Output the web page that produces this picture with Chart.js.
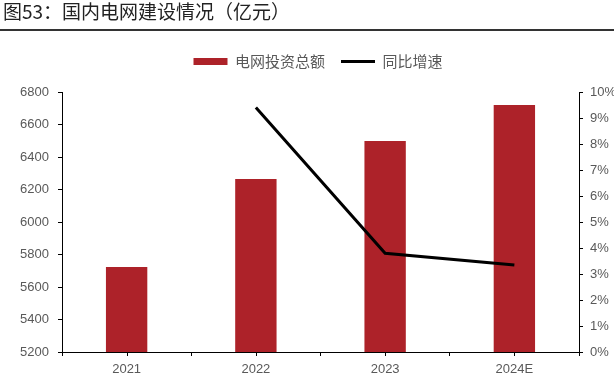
<!DOCTYPE html>
<html>
<head>
<meta charset="utf-8">
<script src="https://cdn.jsdelivr.net/npm/chart.js@4.4.1/dist/chart.umd.min.js"></script>
<style>
  html, body { margin: 0; padding: 0; background: #fff; }
  body { width: 614px; height: 379px; position: relative; overflow: hidden; }
  #title { position: absolute; left: 3px; top: 0px; font: 19px "Noto Sans CJK SC", sans-serif; line-height: 22px; color: #222; white-space: nowrap; }
  #rule { position: absolute; left: 0; top: 29px; width: 614px; height: 2px; background: #333; }
  #wrap { position: absolute; left: 0; top: 0; width: 614px; height: 379px; }
</style>
</head>
<body>
<div id="wrap"><canvas id="c" width="614" height="379"></canvas></div>
<div id="title">图53：国内电网建设情况（亿元）</div>
<div id="rule"></div>
<script>
const categories = ['2021', '2022', '2023', '2024E'];
const investment = [5723, 6264, 6499, 6720];
const growth = [null, 9.4, 3.8, 3.35];
const seriesNames = ['电网投资总额', '同比增速'];
const leftTicks = [5200, 6800, 200];
const rightTicks = [0, 10, 1];

const BAR = '#AD2229';
const TXT = '#595959';

const centerTicks = {
  id: 'centerTicks',
  afterInit(chart) {
    const lg = chart.legend;
    if (!lg) return;
    const of = lg.fit;
    lg.fit = function () { of.apply(this, arguments); this.height += 13; };
    const od = lg.draw;
    lg.draw = function () {
      const ctx = chart.ctx;
      ctx.save(); ctx.translate(11, 0);
      od.apply(this, arguments);
      ctx.restore();
    };
  },
  afterDraw(chart) {
    const x = chart.scales.x;
    const ctx = chart.ctx;
    ctx.save();
    ctx.strokeStyle = '#000';
    ctx.lineWidth = 1;
    categories.forEach((c, i) => {
      const px = Math.round(x.getPixelForValue(i)) + 0.5;
      ctx.beginPath();
      ctx.moveTo(px, x.top);
      ctx.lineTo(px, x.top + 4);
      ctx.stroke();
    });
    ctx.restore();
  }
};

new Chart(document.getElementById('c'), {
  data: {
    labels: categories,
    datasets: [
      {
        type: 'line', label: seriesNames[1], data: growth, yAxisID: 'y1',
        borderColor: '#000', backgroundColor: '#000', borderWidth: 3,
        pointRadius: 0, tension: 0, order: 0
      },
      {
        type: 'bar', label: seriesNames[0], data: investment, yAxisID: 'y',
        backgroundColor: BAR, borderWidth: 0,
        barPercentage: 0.32, categoryPercentage: 1, order: 1
      }
    ]
  },
  options: {
    responsive: false,
    animation: false,
    devicePixelRatio: 1,
    layout: { padding: { top: 38, left: 0, right: 0, bottom: 0 } },
    plugins: {
      tooltip: { enabled: false },
      title: { display: false },
      legend: {
        position: 'top',
        align: 'center',
        labels: {
          usePointStyle: true,
          pointStyleWidth: 34,
          boxHeight: 7,
          padding: 16,
          color: TXT,
          font: { family: '"Noto Sans CJK SC", sans-serif', size: 15 },
          generateLabels(chart) {
            return [
              { text: seriesNames[0], pointStyle: 'rect', fillStyle: BAR, strokeStyle: BAR, lineWidth: 0, datasetIndex: 1, fontColor: TXT },
              { text: seriesNames[1], pointStyle: 'line', fillStyle: '#000', strokeStyle: '#000', lineWidth: 3, datasetIndex: 0, fontColor: TXT }
            ];
          }
        }
      }
    },
    scales: {
      x: {
        offset: true,
        grid: { display: true, drawOnChartArea: false, drawTicks: true, tickLength: 4, tickColor: '#000', offset: true },
        border: { display: true, color: '#000', width: 1 },
        ticks: { color: TXT, font: { family: '"Liberation Sans", Arial, sans-serif', size: 13 }, padding: 6, maxRotation: 0 },
        afterFit(s) { s.height = 27; }
      },
      y: {
        position: 'left',
        min: leftTicks[0], max: leftTicks[1],
        ticks: { stepSize: leftTicks[2], color: TXT, font: { family: '"Liberation Sans", Arial, sans-serif', size: 13 }, padding: 9, callback: v => String(v) },
        grid: { display: true, drawOnChartArea: false, drawTicks: true, tickLength: 4, tickColor: '#000' },
        border: { display: true, color: '#000', width: 1 },
        afterFit(s) { s.width = 62; }
      },
      y1: {
        position: 'right',
        min: rightTicks[0], max: rightTicks[1],
        ticks: { stepSize: rightTicks[2], color: TXT, font: { family: '"Liberation Sans", Arial, sans-serif', size: 13 }, padding: 7, callback: v => v + '%' },
        grid: { display: true, drawOnChartArea: false, drawTicks: true, tickLength: 4, tickColor: '#000' },
        border: { display: true, color: '#000', width: 1 },
        afterFit(s) { s.width = 35; }
      }
    }
  },
  plugins: [centerTicks]
});
</script>
</body>
</html>
